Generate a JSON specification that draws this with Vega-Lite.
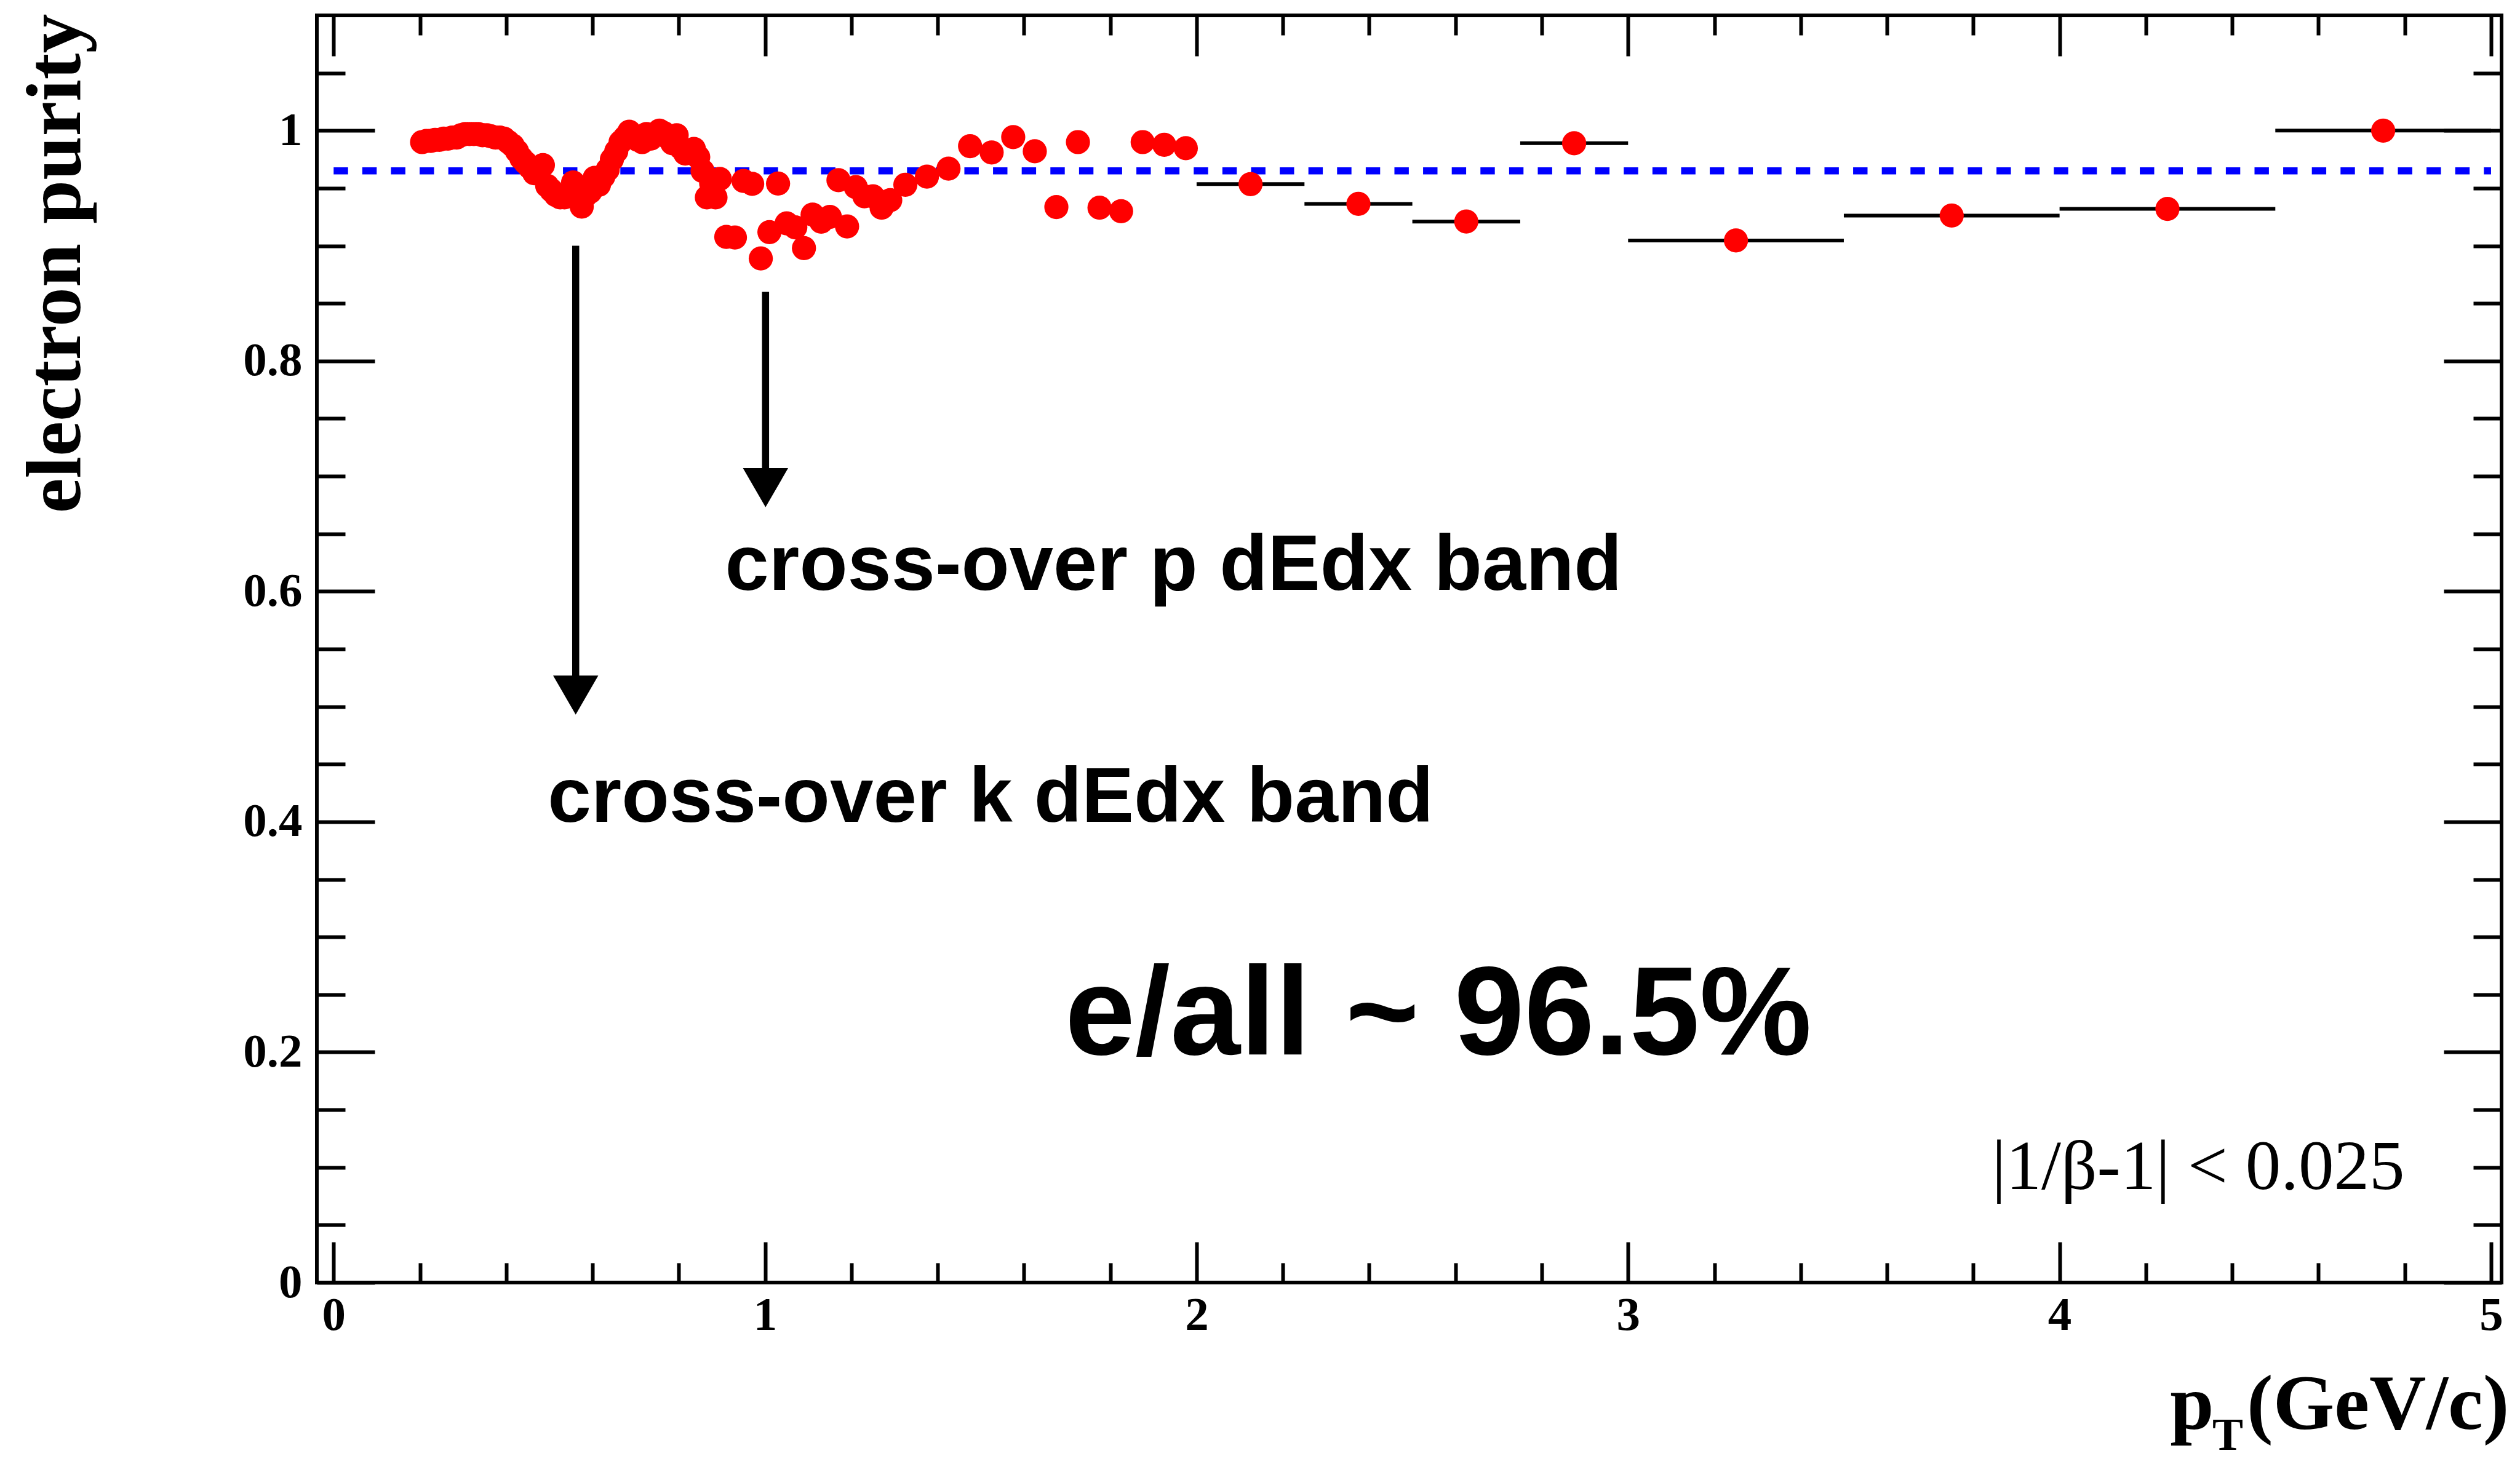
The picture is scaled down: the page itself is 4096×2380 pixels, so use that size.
{
  "$schema": "https://vega.github.io/schema/vega-lite/v6.json",
  "width": 3551,
  "height": 2060,
  "autosize": {"type": "none"},
  "padding": {"left": 515, "top": 25, "right": 30, "bottom": 295},
  "background": "white",
  "config": {
    "view": {"stroke": "black", "strokeWidth": 6},
    "axis": {"domain": false, "grid": false, "tickColor": "black", "tickWidth": 6, "labelColor": "black", "labelFont": "Liberation Serif", "labelFontWeight": "bold", "labelFontSize": 77, "labelOverlap": false, "labelFlush": false, "titleColor": "black"}
  },
  "datasets": {
    "purity": [
      {"pt": 0.205, "purity": 0.990}, {"pt": 0.215, "purity": 0.991}, {"pt": 0.225, "purity": 0.991}, {"pt": 0.235, "purity": 0.992},
      {"pt": 0.245, "purity": 0.992}, {"pt": 0.255, "purity": 0.993}, {"pt": 0.265, "purity": 0.993}, {"pt": 0.275, "purity": 0.994},
      {"pt": 0.285, "purity": 0.994}, {"pt": 0.295, "purity": 0.996}, {"pt": 0.305, "purity": 0.997}, {"pt": 0.315, "purity": 0.997},
      {"pt": 0.325, "purity": 0.997}, {"pt": 0.335, "purity": 0.997}, {"pt": 0.345, "purity": 0.996}, {"pt": 0.355, "purity": 0.996},
      {"pt": 0.365, "purity": 0.995}, {"pt": 0.375, "purity": 0.994}, {"pt": 0.385, "purity": 0.994}, {"pt": 0.395, "purity": 0.993},
      {"pt": 0.405, "purity": 0.990}, {"pt": 0.415, "purity": 0.987}, {"pt": 0.425, "purity": 0.982}, {"pt": 0.435, "purity": 0.976},
      {"pt": 0.445, "purity": 0.972}, {"pt": 0.455, "purity": 0.968}, {"pt": 0.465, "purity": 0.963}, {"pt": 0.475, "purity": 0.966},
      {"pt": 0.485, "purity": 0.970}, {"pt": 0.495, "purity": 0.952}, {"pt": 0.505, "purity": 0.948}, {"pt": 0.515, "purity": 0.944},
      {"pt": 0.525, "purity": 0.942}, {"pt": 0.535, "purity": 0.942}, {"pt": 0.545, "purity": 0.945}, {"pt": 0.555, "purity": 0.955},
      {"pt": 0.565, "purity": 0.948}, {"pt": 0.575, "purity": 0.934}, {"pt": 0.585, "purity": 0.944}, {"pt": 0.595, "purity": 0.947},
      {"pt": 0.605, "purity": 0.959}, {"pt": 0.615, "purity": 0.953}, {"pt": 0.625, "purity": 0.960}, {"pt": 0.635, "purity": 0.966},
      {"pt": 0.645, "purity": 0.975}, {"pt": 0.655, "purity": 0.982}, {"pt": 0.665, "purity": 0.990}, {"pt": 0.675, "purity": 0.994},
      {"pt": 0.685, "purity": 0.999}, {"pt": 0.695, "purity": 0.994}, {"pt": 0.705, "purity": 0.992}, {"pt": 0.715, "purity": 0.990},
      {"pt": 0.725, "purity": 0.997}, {"pt": 0.735, "purity": 0.993}, {"pt": 0.745, "purity": 0.996}, {"pt": 0.755, "purity": 1.000},
      {"pt": 0.765, "purity": 0.998}, {"pt": 0.775, "purity": 0.994}, {"pt": 0.785, "purity": 0.989}, {"pt": 0.795, "purity": 0.996},
      {"pt": 0.805, "purity": 0.985}, {"pt": 0.815, "purity": 0.980}, {"pt": 0.825, "purity": 0.981}, {"pt": 0.835, "purity": 0.984},
      {"pt": 0.845, "purity": 0.977}, {"pt": 0.855, "purity": 0.965}, {"pt": 0.865, "purity": 0.942}, {"pt": 0.875, "purity": 0.954},
      {"pt": 0.885, "purity": 0.942}, {"pt": 0.895, "purity": 0.958},
      {"pt": 0.91, "purity": 0.9077}, {"pt": 0.93, "purity": 0.9072}, {"pt": 0.95, "purity": 0.9563}, {"pt": 0.97, "purity": 0.9537},
      {"pt": 0.99, "purity": 0.889}, {"pt": 1.01, "purity": 0.9119}, {"pt": 1.03, "purity": 0.954}, {"pt": 1.05, "purity": 0.9195},
      {"pt": 1.07, "purity": 0.916}, {"pt": 1.09, "purity": 0.898}, {"pt": 1.11, "purity": 0.927}, {"pt": 1.13, "purity": 0.9209},
      {"pt": 1.15, "purity": 0.9251}, {"pt": 1.17, "purity": 0.957}, {"pt": 1.19, "purity": 0.9168}, {"pt": 1.21, "purity": 0.951},
      {"pt": 1.23, "purity": 0.943}, {"pt": 1.25, "purity": 0.943}, {"pt": 1.27, "purity": 0.933}, {"pt": 1.29, "purity": 0.9396},
      {"pt": 1.325, "purity": 0.953}, {"pt": 1.375, "purity": 0.960}, {"pt": 1.425, "purity": 0.967}, {"pt": 1.475, "purity": 0.9865},
      {"pt": 1.525, "purity": 0.981}, {"pt": 1.575, "purity": 0.9944}, {"pt": 1.625, "purity": 0.982}, {"pt": 1.675, "purity": 0.9336},
      {"pt": 1.725, "purity": 0.990}, {"pt": 1.775, "purity": 0.933}, {"pt": 1.825, "purity": 0.930}, {"pt": 1.875, "purity": 0.990},
      {"pt": 1.925, "purity": 0.9877}, {"pt": 1.975, "purity": 0.9847},
      {"pt": 2.125, "purity": 0.9535, "lo": 2.0, "hi": 2.25},
      {"pt": 2.375, "purity": 0.9364, "lo": 2.25, "hi": 2.5},
      {"pt": 2.625, "purity": 0.921, "lo": 2.5, "hi": 2.75},
      {"pt": 2.875, "purity": 0.989, "lo": 2.75, "hi": 3.0},
      {"pt": 3.25, "purity": 0.9046, "lo": 3.0, "hi": 3.5},
      {"pt": 3.75, "purity": 0.9262, "lo": 3.5, "hi": 4.0},
      {"pt": 4.25, "purity": 0.932, "lo": 4.0, "hi": 4.5},
      {"pt": 4.75, "purity": 1.0, "lo": 4.5, "hi": 5.0}
    ],
    "arrows": [
      {"pt": 0.561, "top": 0.9, "head": 0.51},
      {"pt": 1.001, "top": 0.86, "head": 0.69}
    ]
  },
  "resolve": {"axis": {"x": "independent", "y": "independent"}},
  "layer": [
    {
      "data": {"values": [{}]},
      "mark": {"type": "rule", "color": "#0000ff", "strokeWidth": 11.4, "strokeDash": [23.4, 23.2], "strokeCap": "butt"},
      "encoding": {
        "x": {"datum": 0, "type": "quantitative", "scale": {"domain": [-0.0389, 5.0243], "nice": false, "zero": false}, "axis": null},
        "x2": {"datum": 5},
        "y": {"datum": 0.965, "type": "quantitative", "scale": {"domain": [0, 1.1], "nice": false, "zero": false}, "axis": null}
      }
    },
    {
      "data": {"name": "purity"},
      "transform": [{"filter": "isValid(datum.lo)"}],
      "mark": {"type": "rule", "color": "black", "strokeWidth": 6},
      "encoding": {
        "x": {"field": "lo", "type": "quantitative", "scale": {"domain": [-0.0389, 5.0243], "nice": false, "zero": false},
          "axis": {"orient": "bottom", "values": [0.2, 0.4, 0.6, 0.8, 1.2, 1.4, 1.6, 1.8, 2.2, 2.4, 2.6, 2.8, 3.2, 3.4, 3.6, 3.8, 4.2, 4.4, 4.6, 4.8], "tickSize": -32, "labels": false, "title": null}},
        "x2": {"field": "hi"},
        "y": {"field": "purity", "type": "quantitative", "scale": {"domain": [0, 1.1], "nice": false, "zero": false},
          "axis": {"orient": "left", "values": [0.05, 0.1, 0.15, 0.25, 0.3, 0.35, 0.45, 0.5, 0.55, 0.65, 0.7, 0.75, 0.85, 0.9, 0.95, 1.05], "tickSize": -46, "labels": false, "title": null}}
      }
    },
    {
      "data": {"name": "purity"},
      "mark": {"type": "point", "shape": "circle", "filled": true, "color": "#ff0000", "opacity": 1, "size": 1540},
      "encoding": {
        "x": {"field": "pt", "type": "quantitative", "scale": {"domain": [-0.0389, 5.0243], "nice": false, "zero": false},
          "axis": {"orient": "bottom", "values": [0, 1, 2, 3, 4, 5], "tickSize": -66, "labelPadding": 81, "labelExpr": "'' + datum.value", "title": null}},
        "y": {"field": "purity", "type": "quantitative", "scale": {"domain": [0, 1.1], "nice": false, "zero": false},
          "axis": {"orient": "left", "values": [0, 0.2, 0.4, 0.6, 0.8, 1], "tickSize": -94, "labelPadding": 118, "labelExpr": "'' + datum.value",
            "title": "electron purity", "titleFont": "Liberation Serif", "titleFontWeight": "bold", "titleFontSize": 128,
            "titleAngle": -90, "titleAlign": "right", "titleBaseline": "alphabetic", "titleX": -386, "titleY": -3}}
      }
    },
    {
      "data": {"name": "arrows"},
      "mark": {"type": "rule", "color": "black", "strokeWidth": 11.5},
      "encoding": {
        "x": {"field": "pt", "type": "quantitative", "scale": {"domain": [-0.0389, 5.0243], "nice": false, "zero": false},
          "axis": {"orient": "top", "values": [0, 1, 2, 3, 4, 5], "tickSize": -66, "labels": false, "title": null}},
        "y": {"field": "top", "type": "quantitative", "scale": {"domain": [0, 1.1], "nice": false, "zero": false},
          "axis": {"orient": "right", "values": [0, 0.2, 0.4, 0.6, 0.8, 1], "tickSize": -94, "labels": false, "title": null}},
        "y2": {"field": "head"}
      }
    },
    {
      "data": {"name": "arrows"},
      "mark": {"type": "point", "shape": "triangle-down", "filled": true, "color": "black", "opacity": 1, "size": 5387},
      "encoding": {
        "x": {"field": "pt", "type": "quantitative", "scale": {"domain": [-0.0389, 5.0243], "nice": false, "zero": false},
          "axis": {"orient": "top", "values": [0.2, 0.4, 0.6, 0.8, 1.2, 1.4, 1.6, 1.8, 2.2, 2.4, 2.6, 2.8, 3.2, 3.4, 3.6, 3.8, 4.2, 4.4, 4.6, 4.8], "tickSize": -32, "labels": false, "title": null}},
        "y": {"field": "head", "type": "quantitative", "scale": {"domain": [0, 1.1], "nice": false, "zero": false},
          "axis": {"orient": "right", "values": [0.05, 0.1, 0.15, 0.25, 0.3, 0.35, 0.45, 0.5, 0.55, 0.65, 0.7, 0.75, 0.85, 0.9, 0.95, 1.05], "tickSize": -46, "labels": false, "title": null}}
      }
    },
    {
      "data": {"values": [{}]},
      "mark": {"type": "text", "text": "cross-over p dEdx band", "font": "Liberation Sans", "fontWeight": "bold", "fontSize": 128, "align": "left", "baseline": "alphabetic", "color": "black"},
      "encoding": {
        "x": {"datum": 0.907, "type": "quantitative", "scale": {"domain": [-0.0389, 5.0243], "nice": false, "zero": false}, "axis": null},
        "y": {"datum": 0.601, "type": "quantitative", "scale": {"domain": [0, 1.1], "nice": false, "zero": false}, "axis": null}
      }
    },
    {
      "data": {"values": [{}]},
      "mark": {"type": "text", "text": "cross-over k dEdx band", "font": "Liberation Sans", "fontWeight": "bold", "fontSize": 127, "align": "left", "baseline": "alphabetic", "color": "black"},
      "encoding": {
        "x": {"datum": 0.496, "type": "quantitative", "scale": {"domain": [-0.0389, 5.0243], "nice": false, "zero": false}, "axis": null},
        "y": {"datum": 0.40, "type": "quantitative", "scale": {"domain": [0, 1.1], "nice": false, "zero": false}, "axis": null}
      }
    },
    {
      "data": {"values": [{}]},
      "mark": {"type": "text", "text": "e/all ~ 96.5%", "font": "Liberation Sans", "fontWeight": "bold", "fontSize": 205, "align": "left", "baseline": "alphabetic", "color": "black"},
      "encoding": {
        "x": {"datum": 1.695, "type": "quantitative", "scale": {"domain": [-0.0389, 5.0243], "nice": false, "zero": false}, "axis": null},
        "y": {"datum": 0.198, "type": "quantitative", "scale": {"domain": [0, 1.1], "nice": false, "zero": false}, "axis": null}
      }
    },
    {
      "data": {"values": [{}]},
      "mark": {"type": "text", "text": "|1/β-1| < 0.025", "font": "Liberation Serif", "fontWeight": "normal", "fontSize": 115, "align": "left", "baseline": "alphabetic", "color": "black"},
      "encoding": {
        "x": {"datum": 3.843, "type": "quantitative", "scale": {"domain": [-0.0389, 5.0243], "nice": false, "zero": false}, "axis": null},
        "y": {"datum": 0.081, "type": "quantitative", "scale": {"domain": [0, 1.1], "nice": false, "zero": false}, "axis": null}
      }
    },
    {
      "data": {"values": [{}]},
      "mark": {"type": "text", "text": "p", "font": "Liberation Serif", "fontWeight": "bold", "fontSize": 128, "align": "left", "baseline": "alphabetic", "color": "black"},
      "encoding": {
        "x": {"datum": 4.256, "type": "quantitative", "scale": {"domain": [-0.0389, 5.0243], "nice": false, "zero": false}, "axis": null},
        "y": {"datum": -0.1271, "type": "quantitative", "scale": {"domain": [0, 1.1], "nice": false, "zero": false}, "axis": null}
      }
    },
    {
      "data": {"values": [{}]},
      "mark": {"type": "text", "text": "T", "font": "Liberation Serif", "fontWeight": "bold", "fontSize": 75, "align": "left", "baseline": "alphabetic", "color": "black"},
      "encoding": {
        "x": {"datum": 4.354, "type": "quantitative", "scale": {"domain": [-0.0389, 5.0243], "nice": false, "zero": false}, "axis": null},
        "y": {"datum": -0.145, "type": "quantitative", "scale": {"domain": [0, 1.1], "nice": false, "zero": false}, "axis": null}
      }
    },
    {
      "data": {"values": [{}]},
      "mark": {"type": "text", "text": "(GeV/c)", "font": "Liberation Serif", "fontWeight": "bold", "fontSize": 128, "align": "left", "baseline": "alphabetic", "color": "black"},
      "encoding": {
        "x": {"datum": 4.434, "type": "quantitative", "scale": {"domain": [-0.0389, 5.0243], "nice": false, "zero": false}, "axis": null},
        "y": {"datum": -0.1271, "type": "quantitative", "scale": {"domain": [0, 1.1], "nice": false, "zero": false}, "axis": null}
      }
    }
  ]
}
